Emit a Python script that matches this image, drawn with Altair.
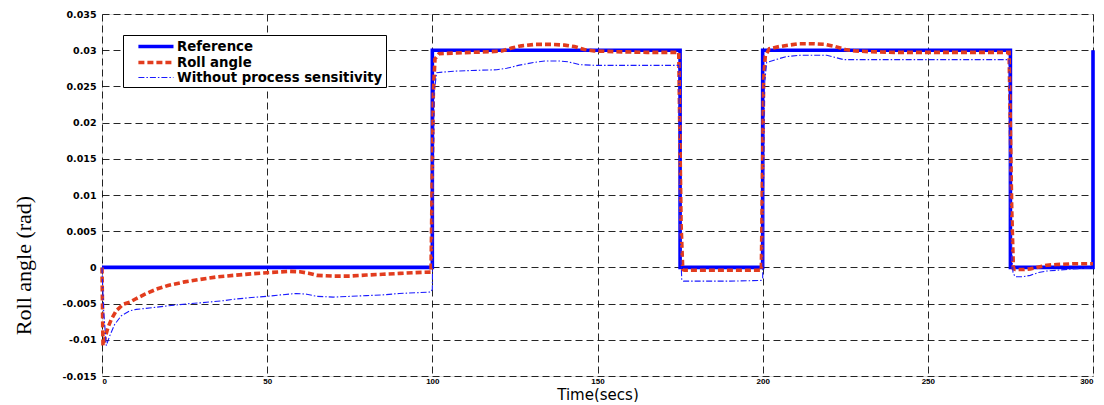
import altair as alt
import pandas as pd

# ---- data ----
series_names = ["Reference", "Roll angle", "Without process sensitivity"]

t_ref = [0, 100, 100, 175, 175, 200, 200, 275, 275, 300, 300]
v_ref = [0, 0, 0.03, 0.03, 0, 0, 0.03, 0.03, 0, 0, 0.03]

t_roll = [0, 0.3, 1, 1.8, 2.8, 4.3, 6.4, 8.4, 10.4, 13, 16.5, 20, 25, 29.7, 35, 39.8, 45, 49.9,
          56.9, 59.9, 62.5, 65, 70, 75, 80, 85, 90.2, 95, 99.6,
          100.3, 100.8, 102, 106, 112, 118, 121, 124, 127, 131, 136, 140, 143, 146, 149, 155, 165, 174.6,
          175.3, 175.8, 176.3, 180, 190, 199.6,
          200.3, 200.8, 202, 205, 208, 211, 215, 219, 222, 225, 228, 232, 240, 250, 262, 274.6,
          275.4, 275.9, 276.5, 279, 281, 284, 286, 289, 294, 300]
v_roll = [0, -0.0108, -0.0096, -0.0083, -0.0072, -0.006, -0.0051, -0.0048, -0.0043, -0.0037, -0.0030,
          -0.0025, -0.0020, -0.00166, -0.0013, -0.0011, -0.0009, -0.00073, -0.00055, -0.0006, -0.0008,
          -0.0011, -0.0012, -0.0012, -0.00106, -0.00095, -0.00083, -0.00072, -0.00065,
          0.024, 0.0288, 0.0295, 0.0296, 0.0297, 0.0298, 0.0299, 0.0303, 0.0306, 0.0308, 0.0308, 0.0307,
          0.0305, 0.0301, 0.0299, 0.0298, 0.0297, 0.0297,
          0.006, -0.0003, -0.0004, -0.0004, -0.0004, -0.0004,
          0.026, 0.0292, 0.0302, 0.0305, 0.0307, 0.0309, 0.0309, 0.0308, 0.0305, 0.0301, 0.0299, 0.0298,
          0.0297, 0.0297, 0.0297, 0.0297,
          0.008, -0.0002, -0.0003, -0.0003, -0.0002, 0.0001, 0.0003, 0.0004, 0.0005, 0.0005]

t_wo = [0, 0.5, 1.3, 2.3, 3.8, 5.8, 8.4, 10.4, 16.5, 20, 26.6, 29.7, 36.7, 39.8, 46.8, 49.9, 54, 58.9,
        62, 65, 70, 75, 80, 85, 90, 95, 99.6,
        100, 100.5, 101.3, 106.4, 112, 119.5, 122.5, 126, 130.6, 134, 138.7, 141, 144.7, 150, 160, 170, 174.6,
        175, 175.5, 176, 180, 190, 199.5,
        200, 200.5, 201.2, 204, 207, 211.3, 215, 219.4, 222, 224.5, 230, 240, 250, 260, 274.6,
        275, 275.8, 276.5, 278.5, 281, 283.5, 286, 289, 294, 299, 300]
v_wo = [0, -0.006, -0.0108, -0.0095, -0.0079, -0.0067, -0.006, -0.0058, -0.0055, -0.0053, -0.0050,
        -0.0049, -0.0046, -0.0044, -0.0041, -0.0040, -0.0038, -0.0036, -0.0037, -0.0040, -0.0041,
        -0.0040, -0.0039, -0.0038, -0.0036, -0.0035, -0.0034,
        -0.0030, 0.024, 0.0269, 0.0271, 0.0272, 0.0273, 0.0275, 0.0279, 0.0283, 0.0285, 0.0285, 0.0284,
        0.0280, 0.0279, 0.0279, 0.0279, 0.0279,
        0.005, -0.0017, -0.0019, -0.0019, -0.0019, -0.0018,
        -0.0015, 0.025, 0.0283, 0.0287, 0.0291, 0.0293, 0.0293, 0.0293, 0.0290, 0.0287, 0.0287, 0.0287,
        0.0287, 0.0287, 0.0287,
        0.005, -0.0008, -0.0013, -0.0013, -0.0011, -0.0007, -0.0005, -0.0004, -0.0002, -0.0001, -0.0001]

x_ticks = [0, 50, 100, 150, 200, 250, 300]
y_ticks = [-0.015, -0.01, -0.005, 0, 0.005, 0.01, 0.015, 0.02, 0.025, 0.03, 0.035]

line_colors = ["#0000ff", "#e23c1e", "#1a1aff"]
line_dashes = [[1, 0], [6, 3], [6, 2, 1.5, 2]]
line_widths = [3.6, 3.6, 1.1]

rows = []
for name, ts, vs in [(series_names[0], t_ref, v_ref),
                     (series_names[1], t_roll, v_roll),
                     (series_names[2], t_wo, v_wo)]:
    for i, (t, v) in enumerate(zip(ts, vs)):
        rows.append({"series": name, "t": t, "v": v, "i": i})
df = pd.DataFrame(rows)

legend = alt.Legend(
    title=None, orient="none", legendX=21, legendY=21,
    fillColor="white", strokeColor="black", padding=3,
    labelFont="DejaVu Sans", labelFontWeight="bold", labelFontSize=13.3,
    labelColor="black", labelLimit=400,
    symbolType="M0.6,0H6", symbolSize=169, rowPadding=-4, labelOffset=34,
)

chart = alt.Chart(df).mark_line(clip=False).encode(
    x=alt.X("t:Q", scale=alt.Scale(domain=[0, 300], nice=False, zero=False),
            axis=alt.Axis(values=x_ticks, title="Time(secs)", grid=True,
                          gridDash=[7, 4], gridColor="#000", gridOpacity=0.85,
                          ticks=False, domain=False,
                          labelFont="Liberation Sans", labelFontWeight="bold",
                          labelFontSize=8, labelColor="black", labelPadding=1,
                          titleFont="DejaVu Sans", titleFontWeight="normal",
                          titleFontSize=15, titleColor="black",
                          titleY=23, titleBaseline="alphabetic")),
    y=alt.Y("v:Q", scale=alt.Scale(domain=[-0.015, 0.035], nice=False, zero=False),
            axis=alt.Axis(values=y_ticks, title="Roll angle (rad)", grid=True,
                          gridDash=[7, 4], gridColor="#000", gridOpacity=0.85,
                          ticks=False, domain=False,
                          labelExpr="replace(format(datum.value, '~g'), '\u2212', '-')",
                          labelFont="DejaVu Sans", labelFontWeight="bold",
                          labelFontSize=9.5, labelColor="black", labelPadding=6,
                          titleFont="Liberation Serif", titleFontWeight="normal",
                          titleFontSize=22, titleColor="black",
                          titleX=-79, titleY=251, titleAngle=270,
                          titleAlign="center", titleBaseline="middle")),
    color=alt.Color("series:N", scale=alt.Scale(domain=series_names, range=line_colors), legend=legend),
    strokeDash=alt.StrokeDash("series:N", scale=alt.Scale(domain=series_names, range=line_dashes), legend=legend),
    strokeWidth=alt.StrokeWidth("series:N", scale=alt.Scale(type="ordinal", domain=series_names, range=line_widths), legend=legend),
    order="i:Q",
).properties(
    width=991, height=362,
    autosize=alt.AutoSizeParams(type="none"),
    padding={"left": 94, "top": 6, "right": 3, "bottom": 26},
).configure_view(
    stroke="black", strokeWidth=1.5
).configure(background="white")

chart.save("out.html", embed_options={"renderer": "svg", "actions": False})
